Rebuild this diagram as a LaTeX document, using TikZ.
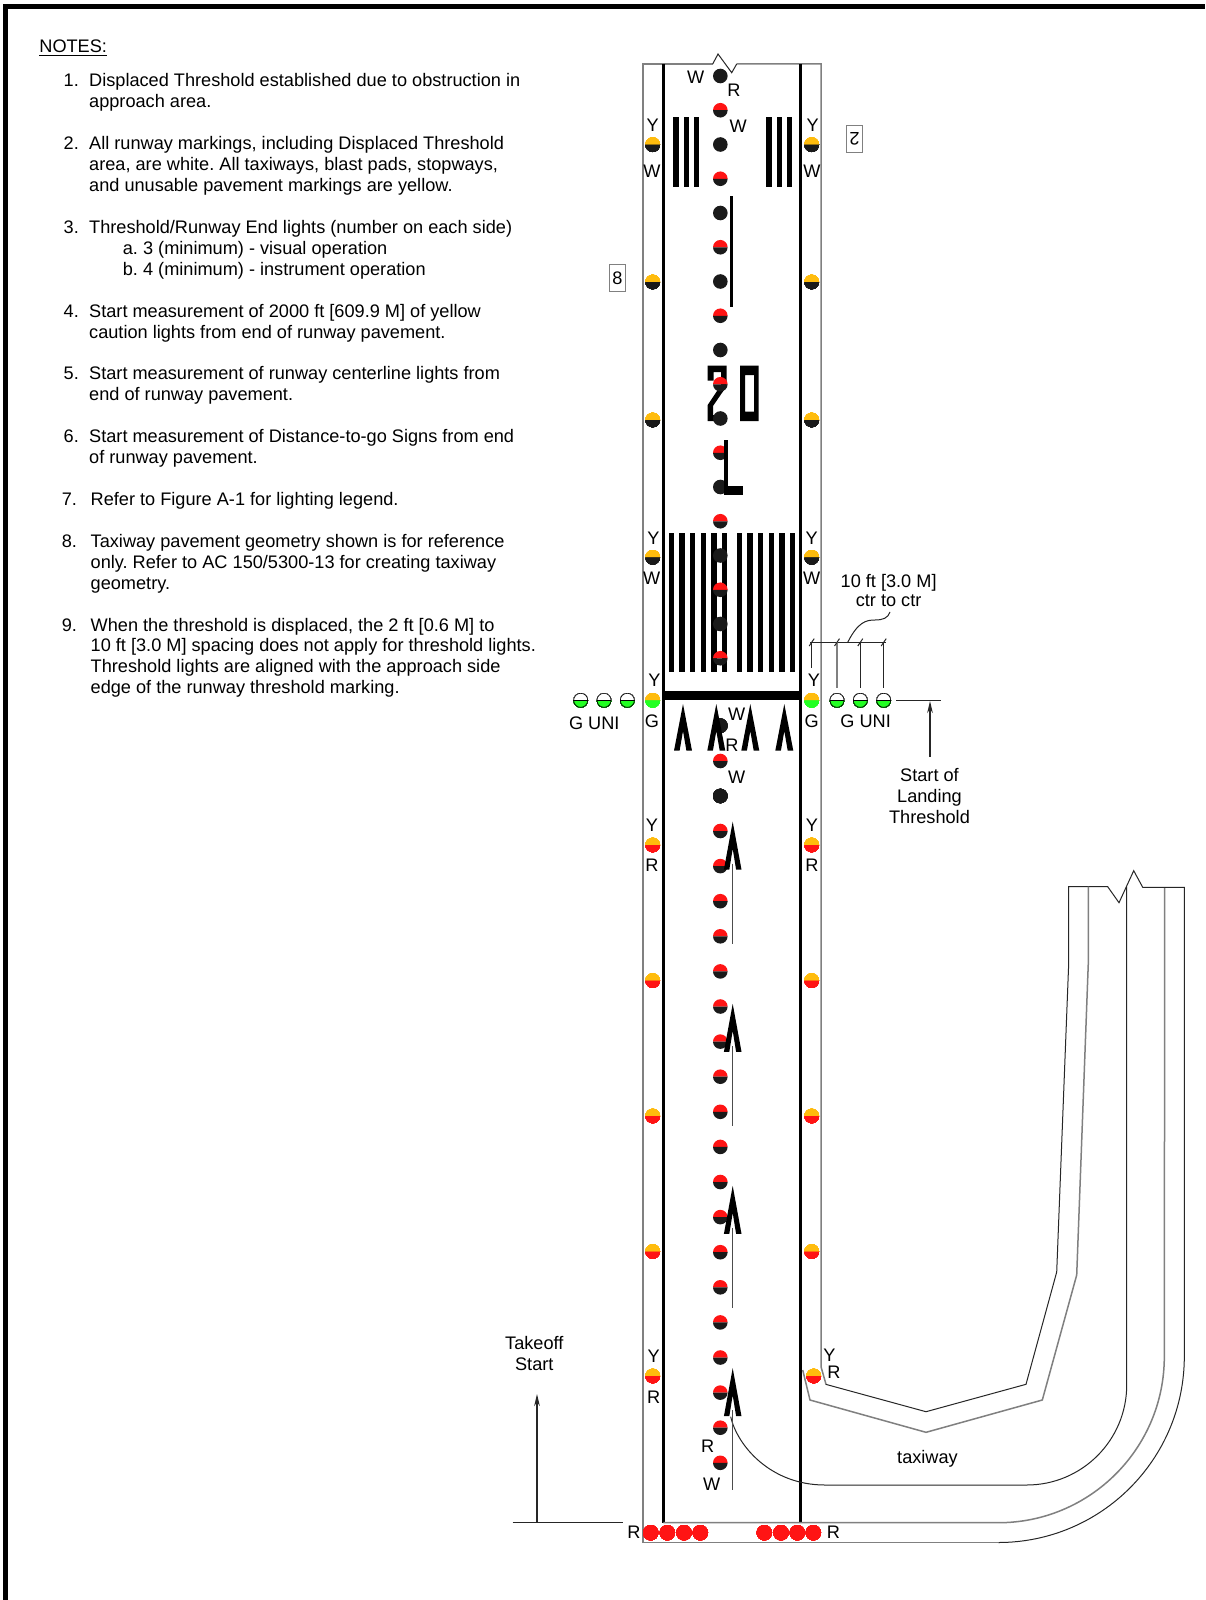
\documentclass[tikz,border=0pt]{standalone}
\usepackage{fontspec}
\setmainfont{Liberation Sans}
\usetikzlibrary{arrows.meta,calc}
\definecolor{lampred}{HTML}{FF1414}
\definecolor{lampyellow}{HTML}{FFBC0D}
\definecolor{lampgreen}{HTML}{22FF22}
\definecolor{lampblack}{HTML}{1A1A1A}
% half lamp: position, upper colour, lower colour
\newcommand{\halflamp}[3]{%
    \fill[#2] ($#1+(-3.65pt,0pt)$) arc[start angle=180,end angle=0,radius=3.65pt] -- cycle;
    \fill[#3] ($#1+(-3.65pt,0pt)$) arc[start angle=180,end angle=360,radius=3.65pt] -- cycle;
}
\tikzset{
    notetext/.style={anchor=north west,inner sep=0pt,align=left,font=\fontsize{9.08}{10.45}\selectfont},
    lbl/.style={inner sep=0pt,font=\fontsize{9.08}{10.45}\selectfont},
    edgeline/.style={draw=black!50,line width=0.75pt},
    thinline/.style={draw=black!85,line width=0.5pt},
    signbox/.style={draw=black!50,line width=0.5pt,inner sep=0pt,minimum width=8pt,minimum height=13.5pt,font=\fontsize{9.08}{10.45}\selectfont},
}
\frenchspacing
\begin{document}
\begin{tikzpicture}[x=0.5pt,y=-0.5pt,line join=miter,>={Stealth[length=6pt,width=2.8pt]}]
    \useasboundingbox (0,0) rectangle (1205,1600);
    \fill[white] (0,0) rectangle (1205,1600);
    \draw[line width=2.6pt] (5.8,1600) -- (5.8,6.6) -- (1205,6.6);
    % notes
    \node[lbl,anchor=west] (notes) at (39,48) {\underline{NOTES:}};
    \foreach \n/\y in {1/73.6,2/136.9,3/220.5,4/304.7,5/366.4,6/429.7}
    \node[notetext] (num\n) at (63.3,\y) {\n.};
    \foreach \n/\y in {7/493,8/534.8,9/618.5}
    \node[notetext] (num\n) at (61.5,\y) {\n.};
    \node[notetext] (note1) at (88.8,72.6) {Displaced Threshold established due to obstruction in\\approach area.};
    \node[notetext] (note2) at (88.8,136.4) {All runway markings, including Displaced Threshold\\area, are white. All taxiways, blast pads, stopways,\\and unusable pavement markings are yellow.};
    \node[notetext] (note3) at (88.8,219.5) {Threshold/Runway End lights (number on each side)};
    \node[notetext] (note3a) at (122.5,241.2) {a. 3 (minimum) - visual operation\\b. 4 (minimum) - instrument operation};
    \node[notetext] (note4) at (88.8,304.2) {Start measurement of 2000 ft [609.9 M] of yellow\\caution lights from end of runway pavement.};
    \node[notetext] (note5) at (88.8,365.9) {Start measurement of runway centerline lights from\\end of runway pavement.};
    \node[notetext] (note6) at (88.8,429.2) {Start measurement of Distance-to-go Signs from end\\of runway pavement.};
    \node[notetext] (note7) at (90.3,492) {Refer to Figure A-1 for lighting legend.};
    \node[notetext] (note8) at (90.3,534.3) {Taxiway pavement geometry shown is for reference\\only. Refer to AC 150/5300-13 for creating taxiway\\geometry.};
    \node[notetext] (note9) at (90.3,617.5) {When the threshold is displaced, the 2 ft [0.6 M] to\\10 ft [3.0 M] spacing does not apply for threshold lights.\\Threshold lights are aligned with the approach side\\edge of the runway threshold marking.};
    % runway and taxiway edges
    \draw[edgeline] (826,1384.3) -- (821,1366.7) -- (821,64) -- (736.7,64);
    \draw[edgeline] (712.7,64) -- (643,64) -- (643,1542.5) -- (998.3,1542.5);
    \draw[thinline] (712.7,64) -- (718,54) -- (731.7,72.7) -- (736.7,64);
    \draw[line width=1.3pt] (663.3,64) -- (663.3,1522.7);
    \draw[line width=1.3pt] (800.7,64) -- (800.7,1522.7);
    \draw[edgeline] (663.3,1522.7) -- (998.3,1522.7) arc[start angle=-90,end angle=0,radius=83pt] -- (1164.7,887.3);
    \draw[thinline] (998.3,1542.5) arc[start angle=-90,end angle=0,radius=93pt] -- (1184.3,887.3) -- (1142.7,887.3) -- (1133.7,870.7) -- (1119,902.7) -- (1107.7,886.7) -- (1068.7,886.7) -- (1068.7,963) -- (1056.7,1272) -- (1026,1384.3) -- (926,1411.7) -- (825.7,1384.3);
    \draw[edgeline] (802.7,1370) -- (810,1400) -- (926,1432.3) -- (1042.3,1400) -- (1076.7,1275) -- (1088.3,963) -- (1088.3,886.7);
    \draw[thinline] (1126.7,886.5) -- (1126.7,1385) arc[start angle=0,end angle=-90,radius=50pt] -- (825,1485) .. controls (770,1485) and (737,1445) .. (730.7,1416.7);
    % markings
    \foreach \x in {676,686.3,696.7,769,779.3,789.7}
    \fill (\x-2.65,117.3) rectangle (\x+2.65,186.7);
    \foreach \x in {671.3,682,692.7,703.3,714,724.7,739.3,750,760.7,771.3,782,792.7}
    \fill (\x-2.65,532.7) rectangle (\x+2.65,672.3);
    \fill (663.3,691) rectangle (800.7,700.3);
    \draw[line width=1.2pt] (731.3,196) -- (731.3,307.3);
    \fill (707.7,365.7) -- (726.7,365.7) -- (726.7,386) -- (713,406) -- (713,415) -- (726.7,415) -- (726.7,421) -- (707.7,421) -- (707.7,405) -- (721,385) -- (721,372) -- (713.5,372) -- (713.5,380.7) -- (707.7,380.7) -- cycle;
    \fill[even odd rule] (740,365.7) rectangle (758.7,421) (745,375) rectangle (754,411.7);
    % centerline lamps
    \foreach \k in {0,2,...,16}
    \fill[lampblack] (720.3,76+34.25*\k) circle (3.65pt);
    \foreach \k in {1,3,...,17}
    \halflamp{(720.3,76+34.25*\k)}{lampred}{lampblack}
    \foreach \y in {725.7,796}
    \fill[lampblack] (720.3,\y) circle (3.65pt);
    \halflamp{(720.3,761)}{lampred}{lampblack}
    \foreach \k in {3,...,21}
    \halflamp{(720.3,725.7+35.1*\k)}{lampred}{lampblack}
    % edge lamps
    \foreach \y in {144.7,282,420,557.3}{
        \halflamp{(652.7,\y)}{lampyellow}{lampblack}
        \halflamp{(811.7,\y)}{lampyellow}{lampblack}
    }
    \foreach \y in {845,980.6,1116,1251.5}{
        \halflamp{(652.7,\y)}{lampyellow}{lampred}
        \halflamp{(811.7,\y)}{lampyellow}{lampred}
    }
    \halflamp{(652.7,1376)}{lampyellow}{lampred}
    \halflamp{(813.7,1376)}{lampyellow}{lampred}
    \halflamp{(652.7,700.3)}{lampyellow}{lampgreen}
    \halflamp{(811.7,700.3)}{lampyellow}{lampgreen}
    \foreach \x in {580.7,604,627.3,837,860.3,883.7}{
        \halflamp{(\x,700.3)}{white}{lampgreen}
        \draw[line width=0.3pt] (\x,700.3) circle (3.5pt);
        \draw[line width=0.4pt] (\x-7.3,700.3) -- (\x+7.3,700.3);
    }
    \foreach \x in {650.7,667.3,684,700.3,764.3,781,797.3,813.3}
    \fill[lampred] (\x,1532.7) circle (3.85pt);
    % L and arrows over the lamps
    \fill (724.3,440) rectangle (728.3,495);
    \fill (724,486) rectangle (742.7,495);
    \foreach \x in {683,716.3,750.3,784.3}
    \fill[shift={(\x,704)}] (0,0) -- (9,46.7) -- (3.4,46.7) -- (0,27) -- (-3.4,46.7) -- (-9,46.7) -- cycle;
    \foreach \y in {821.7,1003.8,1185.9,1368.2}{
        \fill[shift={(732.7,\y)}] (0,0) -- (8.8,48) -- (3.4,48) -- (0,27) -- (-3.4,48) -- (-8.8,48) -- cycle;
        \draw[black!70,line width=0.7pt] (732.7,\y+42) -- (732.7,\y+122);
    }
    % leaders
    \coordinate (takeoffbase) at (537,1522.7);
    \coordinate (takeofftip) at (537,1394);
    \draw[thinline] (512.7,1522.7) -- (623.3,1522.7);
    \draw[->,thinline,line width=0.7pt] (takeoffbase) -- (takeofftip);
    \coordinate (landbase) at (930,756.7);
    \coordinate (landtip) at (930,701);
    \draw[thinline] (896,700.3) -- (941,700.3);
    \draw[->,thinline,line width=0.7pt] (landbase) -- (landtip);
    \draw[thinline] (810,642.3) -- (886,642.3);
    \draw[thinline] (811.7,642.3) -- (811.7,668);
    \draw[edgeline] (837,642.3) -- (837,687.7);
    \draw[thinline] (860.3,642.3) -- (860.3,687.7);
    \draw[thinline] (883.7,642.3) -- (883.7,687.7);
    \foreach \x in {811.7,837,860.3,883.7}
    \draw[thinline] (\x-2.5,646) -- (\x+2.5,638.6);
    \draw[thinline] (847.7,642.3) .. controls (858,622) and (866,620) .. (875,620) .. controls (883,620) and (888,618) .. (890,612);
    % signs
    \node[signbox] (sign8) at (617.5,278) {8};
    \node[signbox,rotate=180] (sign2) at (854.5,139.2) {2};
    % letters
    \foreach \n/\t/\x/\y in {a/W/695.7/77.7,b/R/734/90.5,c/W/738.3/126.7,d/Y/652.7/125.5,e/W/652/171.2,f/Y/812.7/125.5,g/W/812/171.2,
        h/Y/653.3/537.8,i/W/651.7/577.8,j/Y/811.7/537.8,k/W/811.7/577.8,l/Y/654.3/679.8,m/G/652/721,n/Y/814/679.8,o/G/811.7/721,
        p/W/736.7/714.3,q/R/732/745,r/W/736.7/777.3,s/Y/652/825,t/R/652/865.5,u/Y/812/825,v/R/812/865.5,
        w/Y/653.7/1356.5,x/R/653.7/1397.3,y/Y/829.3/1355,z/R/834/1372.7,aa/R/707.7/1446.7,ab/W/711.7/1484,ac/R/634/1532.7,ad/R/833.3/1532.7}
    \node[lbl] (let\n) at (\x,\y) {\t};
    \node[lbl] (guniL) at (594.3,723) {G UNI};
    \node[lbl] (guniR) at (865.6,721) {G UNI};
    \node[lbl,align=center] (spacing) at (888.6,590.5) {10 ft [3.0 M]\\[-1.4pt]ctr to ctr};
    \node[lbl,align=center] (landing) at (929.5,795.8) {Start of\\Landing\\Threshold};
    \node[lbl,align=center] (takeoff) at (534.3,1353.5) {Takeoff\\Start};
    \node[lbl] (taxiway) at (927.5,1458.8) {taxiway};
\end{tikzpicture}
\end{document}
